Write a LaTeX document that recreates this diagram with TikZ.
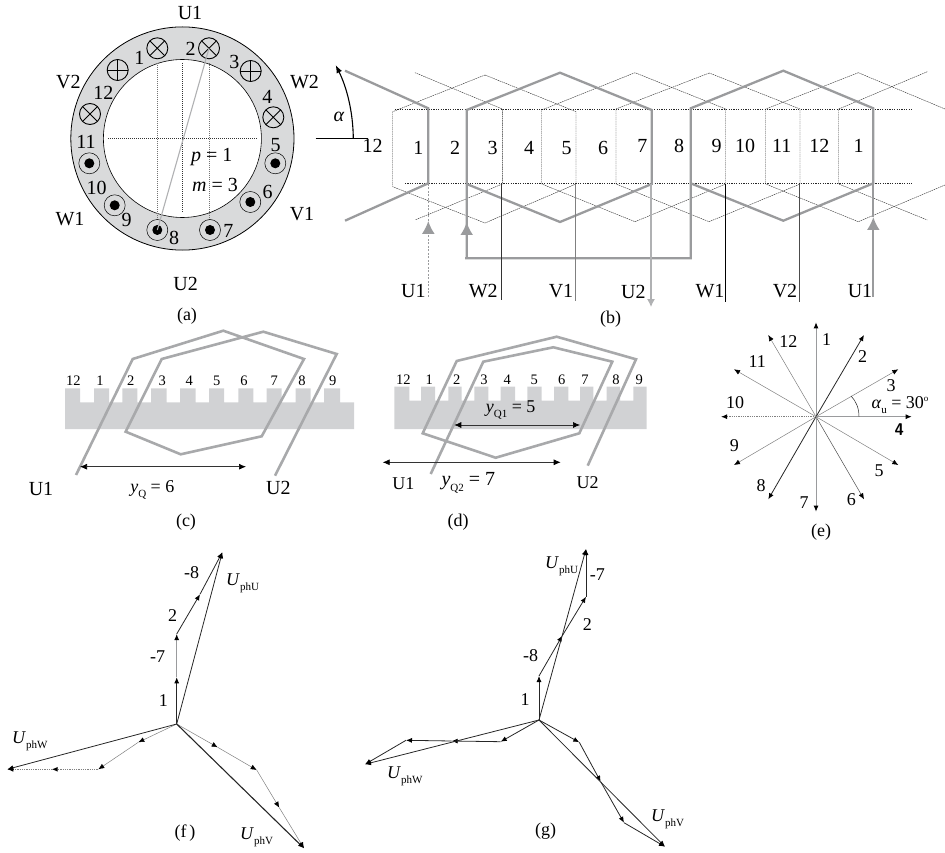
\documentclass[tikz,border=0pt]{standalone}
\usepackage{fontspec}
\setmainfont{Liberation Serif}
\usepackage{tikz}
\usetikzlibrary{shapes,arrows.meta}
\definecolor{ringgray}{HTML}{D9DADB}
\definecolor{bandgray}{HTML}{D1D2D4}
\definecolor{coilgray}{HTML}{9A9B9D}
\definecolor{pilotgray}{HTML}{B0B1B3}
\definecolor{windgray}{HTML}{A8A9AB}
\newcommand{\phlabel}[2]{\textit{#1}\raisebox{-0.3em}{\fontsize{11}{12}\selectfont #2}}
\tikzstyle{big} = [inner sep=0pt, font=\fontsize{20}{22}\selectfont]
\tikzstyle{mid} = [inner sep=0pt, font=\fontsize{18}{20}\selectfont]
\tikzstyle{tiny} = [inner sep=0pt, font=\fontsize{14.5}{16}\selectfont]
\tikzstyle{slotin} = [circle, draw, inner sep=0pt, minimum size=21pt, line width=0.9pt,
    path picture={\draw [line width=0.9pt] (path picture bounding box.north west) -- (path picture bounding box.south east)
    (path picture bounding box.north east) -- (path picture bounding box.south west);}]
\tikzstyle{slotplus} = [circle, draw, inner sep=0pt, minimum size=21pt, line width=0.9pt,
    path picture={\draw [line width=0.9pt] (path picture bounding box.north) -- (path picture bounding box.south)
    (path picture bounding box.east) -- (path picture bounding box.west);}]
\tikzstyle{slotout} = [circle, draw, inner sep=0pt, minimum size=21pt, line width=0.5pt,
    path picture={\fill (path picture bounding box.center) circle (5pt);}]
\tikzstyle{coil} = [draw=coilgray, line width=2.3pt, line join=miter]
\tikzstyle{thincoil} = [draw=black!85, line width=0.4pt, dash pattern=on 1.5pt off 0.7pt]
\tikzstyle{rail} = [draw=black!85, line width=0.9pt, dash pattern=on 1.2pt off 1.2pt]
\tikzstyle{grid} = [draw=black!55, line width=0.6pt, dash pattern=on 1pt off 1pt]
\tikzstyle{bigtip} = [draw=coilgray, line width=2.3pt, -{Latex[length=13pt,width=13pt]}]
\tikzstyle{span} = [draw=black!80, line width=0.7pt, {Latex[length=7pt,width=6pt,black]}-{Latex[length=7pt,width=6pt,black]}]
\tikzstyle{ray} = [draw=black!50, line width=0.5pt, -{Latex[length=6pt,width=5pt,black]}]
\tikzstyle{rayblack} = [draw=black!85, line width=0.8pt, -{Latex[length=6pt,width=5pt,black]}]
\tikzstyle{raygray} = [draw=coilgray, line width=1pt, -{Latex[length=6pt,width=5pt,black]}]
\tikzstyle{raydot} = [draw=black!50, line width=1pt, dash pattern=on 1pt off 0.8pt, -{Latex[length=6pt,width=5pt,black]}]

\begin{document}
\begin{tikzpicture}[x=1pt, y=-1pt]
    \useasboundingbox (0,0) rectangle (945,853);

    % (a) ring with its slots
    \path [fill=ringgray, draw=black, line width=0.8pt] (182.4,138.5) circle (111.6pt);
    \path [fill=white, draw=black, line width=0.6pt] (182.4,138.5) circle (79pt);
    \coordinate (crosstop) at (182.7,63);
    \coordinate (crossbot) at (182.7,213);
    \coordinate (crossleft) at (108,138.3);
    \coordinate (crossright) at (257,138.3);
    \coordinate (gridla) at (157.3,63);
    \coordinate (gridlb) at (157.3,220);
    \coordinate (gridra) at (209,63);
    \coordinate (gridrb) at (209,220);
    \path [grid] (gridla) -- (gridlb);
    \path [grid] (gridra) -- (gridrb);
    \path [grid, draw=black!80] (crosstop) -- (crossbot);
    \path [grid, draw=black!80] (crossleft) -- (crossright);
    \node [slotin] (s1) at (157.3,48.3) {};
    \node [slotin] (s2) at (209,48.3) {};
    \node [slotplus] (s3) at (250.7,71) {};
    \node [slotin] (s4) at (273.3,117.3) {};
    \node [slotout] (s5) at (275.3,163.3) {};
    \node [slotout] (s6) at (250.3,202) {};
    \node [slotout] (s7) at (210,230) {};
    \node [slotout] (s8) at (157.3,230) {};
    \node [slotout] (s9) at (114.7,205.3) {};
    \node [slotout] (s10) at (89.3,163.3) {};
    \node [slotin] (s11) at (90,114) {};
    \node [slotplus] (s12) at (117.7,70) {};
    \path [draw=pilotgray, line width=1.1pt] (s2.center) -- (s8.center);
    \node [big] (n1) at (139.3,58.3) {1};
    \node [big] (n2) at (190.7,49.3) {2};
    \node [big] (n3) at (234.3,61.7) {3};
    \node [big] (n4) at (267.3,96.7) {4};
    \node [big] (n5) at (275.7,145) {5};
    \node [big] (n6) at (267.7,191.7) {6};
    \node [big] (n7) at (228.3,230.7) {7};
    \node [big] (n8) at (174,238.3) {8};
    \node [big] (n9) at (126.7,220) {9};
    \node [big] (n10) at (96.7,187.7) {10};
    \node [big] (n11) at (86,142.3) {11};
    \node [big] (n12) at (103.3,92.7) {12};
    \node [big] (ringu1) at (190,13.3) {U1};
    \node [big] (ringu2) at (185.7,284) {U2};
    \node [big] (ringv2) at (68.3,81.7) {V2};
    \node [big] (ringw2) at (304.5,81.7) {W2};
    \node [big] (ringw1) at (70,219.3) {W1};
    \node [big] (ringv1) at (302,214) {V1};
    \node [big] (polepairs) at (211.7,157.3) {\textit{p} = 1};
    \node [big] (phases) at (215,185) {\textit{m} = 3};
    \node [mid] (capa) at (187,316) {(a)};

    % (b) thin coils behind
    \path [thincoil] (415,72.7) -- (502.3,109) -- (502.3,184) -- (415,220);
    \path [thincoil] (485,75) -- (392.7,111.7) -- (392.7,186.7) -- (485,223) -- (576,184) -- (576,111.7) -- cycle;
    \path [thincoil] (635,72.7) -- (541.7,110) -- (541.7,184) -- (635,221.7) -- (725.7,184) -- (725.7,109) -- cycle;
    \path [thincoil] (709.3,73) -- (616,109) -- (616,184) -- (709,221.7) -- (800,184) -- (800,109) -- cycle;
    \path [thincoil] (858.3,72.7) -- (765.7,109) -- (765.7,184) -- (858.3,221.7) -- (945,185);
    \path [thincoil] (858.3,72.7) -- (945,109);
    \path [thincoil] (927.3,71.7) -- (838.7,109) -- (838.7,184) -- (927.3,220);
    \path [rail] (395,109) -- (911.7,109);
    \path [rail] (405,183.7) -- (911.7,183.7);

    % (b) thick coils
    \path [coil] (345,70.7) -- (428.3,108.3) -- (428.3,183.3) -- (345,220.7);
    \path [coil] (466.7,258.3) -- (466.7,110) -- (560,72.7) -- (651.7,110) -- (651.7,184) -- (560,222) -- (466.7,184);
    \path [coil] (465,258.3) -- (690.7,258.3) -- (690.7,108.3) -- (783.3,70.7) -- (873.3,108.3) -- (873.3,183.3) -- (783.3,220.7) -- (690.7,183.3);
    \coordinate (ufootl) at (428.3,296.7);
    \coordinate (utipl) at (428.3,221);
    \coordinate (utopl) at (428.3,183.3);
    \path [bigtip, line width=1.6pt, dash pattern=on 2pt off 1.5pt] (ufootl) -- (utipl);
    \path [draw=coilgray, line width=1.6pt, dash pattern=on 2pt off 1.5pt] (utipl) -- (utopl);
    \coordinate (ufootm) at (466.7,258.3);
    \coordinate (utipm) at (466.7,222);
    \path [bigtip] (ufootm) -- (utipm);
    \coordinate (ufootr) at (873.3,296.7);
    \coordinate (utipr) at (873.3,217);
    \coordinate (utopr) at (873.3,183.3);
    \path [bigtip] (ufootr) -- (utipr);
    \path [draw=coilgray, line width=2.3pt] (utipr) -- (utopr);
    \coordinate (uout) at (651,184);
    \coordinate (uoutend) at (651,307);
    \path [draw=pilotgray, line width=1.1pt, -{Latex[length=8pt,width=8pt]}] (uout) -- (uoutend);
    \path [draw=black!80, line width=0.6pt] (501.7,183.7) -- (501.7,300);
    \path [draw=black!50, line width=0.7pt] (575,183.7) -- (575,301);
    \path [draw=black, line width=0.9pt] (725,184) -- (725,301.7);
    \path [draw=black!70, line width=0.6pt] (799.3,184) -- (799.3,302);

    % (b) slot numbers
    \node [big] (b12l) at (372.7,146) {12};
    \node [big] (b1) at (418.3,148) {1};
    \node [big] (b2) at (455,148) {2};
    \node [big] (b3) at (492.7,148) {3};
    \node [big] (b4) at (529,148) {4};
    \node [big] (b5) at (566.7,148) {5};
    \node [big] (b6) at (603,148) {6};
    \node [big] (b7) at (642.3,146) {7};
    \node [big] (b8) at (679,146) {8};
    \node [big] (b9) at (716.7,146) {9};
    \node [big] (b10) at (745,146) {10};
    \node [big] (b11) at (781.7,146) {11};
    \node [big] (b12) at (819.3,146) {12};
    \node [big] (b1r) at (858.7,146) {1};
    \node [big] (bu1) at (413.3,290.7) {U1};
    \node [big] (bw2) at (483.3,290.7) {W2};
    \node [big] (bv1) at (561,290.7) {V1};
    \node [big] (bu2) at (633.3,291.7) {U2};
    \node [big] (bw1) at (710,290.7) {W1};
    \node [big] (bv2) at (785,290.7) {V2};
    \node [big] (bu1r) at (860,290.7) {U1};
    \node [mid] (capb) at (610.7,319) {(b)};

    % angle mark
    \coordinate (anglea) at (315.7,138.3);
    \coordinate (angleb) at (368.3,138.3);
    \coordinate (anglefoot) at (353.3,138.3);
    \coordinate (angletip) at (335.7,65);
    \path [draw=black, line width=1.5pt] (anglea) -- (angleb);
    \path [draw=black, line width=1.1pt, -{Latex[length=8pt,width=6pt]}] (anglefoot) .. controls (353,112) and (347,88) .. (angletip);
    \node [big] (alpha) at (339,117.3) {\textit{α}};

    % (c) slotted band
    \path [fill=bandgray] (65,388.3) -- (80,388.3) -- (80,402.3) -- (94,402.3) -- (94,388.3) -- (109,388.3) -- (109,402.3)
        -- (122.3,402.3) -- (122.3,388.3) -- (137.3,388.3) -- (137.3,402.3) -- (151,402.3) -- (151,388.3) -- (166.7,388.3)
        -- (166.7,402.3) -- (180,402.3) -- (180,388.3) -- (195.7,388.3) -- (195.7,402.3) -- (209,402.3) -- (209,388.3)
        -- (224,388.3) -- (224,402.3) -- (238.3,402.3) -- (238.3,388.3) -- (253.3,388.3) -- (253.3,402.3) -- (266.7,402.3)
        -- (266.7,388.3) -- (281.7,388.3) -- (281.7,402.3) -- (295.7,402.3) -- (295.7,388.3) -- (310.7,388.3) -- (310.7,402.3)
        -- (324,402.3) -- (324,388.3) -- (340,388.3) -- (340,402.3) -- (354,402.3) -- (354,429) -- (65,429) -- cycle;
    \node [tiny] (c12) at (73.3,381) {12};
    \node [tiny] (c1) at (100,381) {1};
    \node [tiny] (c2) at (130.7,381) {2};
    \node [tiny] (c3) at (162.3,381) {3};
    \node [tiny] (c4) at (189.3,381) {4};
    \node [tiny] (c5) at (216.7,381) {5};
    \node [tiny] (c6) at (244,381) {6};
    \node [tiny] (c7) at (274.3,381) {7};
    \node [tiny] (c8) at (302,381) {8};
    \node [tiny] (c9) at (332.7,381) {9};
    \path [coil, draw=windgray, line width=2.6pt] (76,475) -- (132.7,359) -- (223.3,330.7) -- (304,359) -- (261.7,436.3) -- (180.7,454.3)
        -- (125.7,431.7) -- (161.7,359) -- (263.3,331.7) -- (336.7,354) -- (275,475.7);
    \coordinate (cspana) at (80,466.7);
    \coordinate (cspanb) at (246,466.7);
    \path [span] (cspana) -- (cspanb);
    \node [big] (cu1) at (41,489.3) {U1};
    \node [big] (cu2) at (278.3,487.7) {U2};
    \node [mid] (cpitch) at (152.3,490) {\textit{y}\raisebox{-0.3em}{\fontsize{11}{12}\selectfont Q} = 6};
    \node [mid] (capc) at (186,522) {(c)};

    % (d) slotted band
    \path [fill=bandgray] (394.3,386.7) -- (409.3,386.7) -- (409.3,400.7) -- (421,400.7) -- (421,386.7) -- (435,386.7) -- (435,400.7)
        -- (448.3,400.7) -- (448.3,386.7) -- (461.7,386.7) -- (461.7,400.7) -- (474.3,400.7) -- (474.3,386.7) -- (488.3,386.7)
        -- (488.3,400.7) -- (500.7,400.7) -- (500.7,386.7) -- (515,386.7) -- (515,400.7) -- (527.3,400.7) -- (527.3,386.7)
        -- (541.7,386.7) -- (541.7,400.7) -- (554,400.7) -- (554,386.7) -- (568.3,386.7) -- (568.3,400.7) -- (580,400.7)
        -- (580,386.7) -- (593.3,386.7) -- (593.3,400.7) -- (606.7,400.7) -- (606.7,386.7) -- (620,386.7) -- (620,400.7)
        -- (633.3,400.7) -- (633.3,386.7) -- (646.7,386.7) -- (646.7,429) -- (394.3,429) -- cycle;
    \node [tiny] (d12) at (403.3,380) {12};
    \node [tiny] (d1) at (429.3,380) {1};
    \node [tiny] (d2) at (456.7,380) {2};
    \node [tiny] (d3) at (484,380) {3};
    \node [tiny] (d4) at (507.3,380) {4};
    \node [tiny] (d5) at (534.3,380) {5};
    \node [tiny] (d6) at (561.7,380) {6};
    \node [tiny] (d7) at (585,380) {7};
    \node [tiny] (d8) at (616,380) {8};
    \node [tiny] (d9) at (639.3,380) {9};
    \path [coil, draw=windgray, line width=2.6pt] (430.7,474) -- (483.3,361.7) -- (553.3,347.3) -- (612.3,361.7) -- (579.3,433.3) -- (495.7,457.7)
        -- (422.7,433.3) -- (456.7,361) -- (556.7,336.7) -- (636,359.3) -- (587.7,465.7);
    \coordinate (dshorta) at (454.3,425);
    \coordinate (dshortb) at (580,425);
    \coordinate (dlonga) at (382.7,462.3);
    \coordinate (dlongb) at (560.7,462.3);
    \path [span] (dshorta) -- (dshortb);
    \path [span] (dlonga) -- (dlongb);
    \node [mid] (dpitcha) at (510.7,410) {\textit{y}\raisebox{-0.3em}{\fontsize{11}{12}\selectfont Q1} = 5};
    \node [big] (dpitchb) at (468.3,483.3) {\textit{y}\raisebox{-0.3em}{\fontsize{11}{12}\selectfont Q2} = 7};
    \node [mid] (du1) at (403.3,483.3) {U1};
    \node [mid] (du2) at (587.7,482.3) {U2};
    \node [mid] (capd) at (458,522) {(d)};

    % (e) star of slots
    \coordinate (ec) at (816,416.7);
    \coordinate (e1) at (816,322.3);
    \coordinate (e2) at (864,335);
    \coordinate (e3) at (898.3,369.3);
    \coordinate (e4) at (911.7,416.7);
    \coordinate (e5) at (898.3,465);
    \coordinate (e6) at (864,499.3);
    \coordinate (e7) at (816,511.7);
    \coordinate (e8) at (768.3,499.3);
    \coordinate (e9) at (734,465);
    \coordinate (e10) at (721,416.7);
    \coordinate (e11) at (734,369.3);
    \coordinate (e12) at (768.3,335);
    \path [raygray] (ec) -- (e1);
    \path [rayblack] (ec) -- (e2);
    \path [ray] (ec) -- (e3);
    \path [raygray] (ec) -- (e4);
    \path [ray] (ec) -- (e5);
    \path [ray, draw=black!70] (ec) -- (e6);
    \path [raygray] (ec) -- (e7);
    \path [rayblack] (ec) -- (e8);
    \path [ray] (ec) -- (e9);
    \path [raydot] (ec) -- (e10);
    \path [ray] (ec) -- (e11);
    \path [ray] (ec) -- (e12);
    \coordinate (arca) at (859,416.7);
    \coordinate (arcb) at (851,396);
    \path [draw=black!85, line width=0.5pt] (arca) .. controls (859,408) and (856,401) .. (arcb);
    \node [mid] (l1) at (826.7,339.3) {1};
    \node [mid] (l2) at (862.7,356.7) {2};
    \node [mid] (l3) at (891,386) {3};
    \node [inner sep=0pt, font=\fontsize{17}{20}\selectfont\bfseries\sffamily] (l4) at (899.3,429.3) {4};
    \node [mid] (l5) at (879,471) {5};
    \node [mid] (l6) at (851.3,499.3) {6};
    \node [mid] (l7) at (804,502.7) {7};
    \node [mid] (l8) at (761,486) {8};
    \node [mid] (l9) at (734.3,445.7) {9};
    \node [mid] (l10) at (735,402.7) {10};
    \node [mid] (l11) at (757.3,361.7) {11};
    \node [mid] (l12) at (788.3,341.7) {12};
    \node [mid] (slotangle) at (900,405) {\textit{α}\raisebox{-0.3em}{\fontsize{11}{12}\selectfont u} = 30\raisebox{0.4em}{\fontsize{9}{10}\selectfont o}};
    \node [mid] (cape) at (821,531.7) {(e)};

    % (f) phasors, full pitch
    \coordinate (fc) at (176.7,724);
    \coordinate (fu1) at (176.7,677.3);
    \coordinate (fu2) at (176.7,634);
    \coordinate (fu3) at (200,594.3);
    \coordinate (fu4) at (222.3,552.3);
    \coordinate (fw1) at (138.3,742.3);
    \coordinate (fw2) at (98.3,769.3);
    \coordinate (fw3) at (51.7,769.3);
    \coordinate (fw4) at (7.3,769.3);
    \coordinate (fv1) at (217.7,747.3);
    \coordinate (fv2) at (256.7,770);
    \coordinate (fv3) at (279.3,807.7);
    \coordinate (fv4) at (304,848.3);
    \path [rayblack] (fc) -- (fu1);
    \path [raygray] (fu1) -- (fu2);
    \path [rayblack] (fu2) -- (fu3);
    \path [rayblack] (fu3) -- (fu4);
    \path [rayblack] (fc) -- (fu4);
    \path [ray] (fc) -- (fw1);
    \path [ray] (fw1) -- (fw2);
    \path [raydot] (fw2) -- (fw3);
    \path [raydot] (fw3) -- (fw4);
    \path [rayblack] (fc) -- (fw4);
    \path [ray] (fc) -- (fv1);
    \path [ray] (fv1) -- (fv2);
    \path [ray] (fv2) -- (fv3);
    \path [ray] (fv3) -- (fv4);
    \path [rayblack, line width=1.1pt] (fc) -- (fv4);
    \node [mid] (fl1) at (163.3,701) {1};
    \node [mid] (fl7) at (157.7,656.7) {-7};
    \node [mid] (fl2) at (172.7,615.3) {2};
    \node [mid] (fl8) at (191.7,572.3) {-8};
    \node [mid, anchor=west] (fphu) at (226,583) {\phlabel{U}{phU}};
    \node [mid, anchor=west] (fphw) at (12,741) {\phlabel{U}{phW}};
    \node [mid, anchor=west] (fphv) at (240,837) {\phlabel{U}{phV}};
    \node [mid] (capf) at (185,833) {(f\,)};

    % (g) phasors, chorded
    \coordinate (gc) at (539,720);
    \coordinate (gu1) at (539,676);
    \coordinate (gu2) at (562.3,635.7);
    \coordinate (gu3) at (586,596.7);
    \coordinate (gu4) at (586,549);
    \coordinate (gw1) at (500.7,741.7);
    \coordinate (gw2) at (451.7,741);
    \coordinate (gw3) at (406,740.3);
    \coordinate (gw4) at (365,764.3);
    \coordinate (gv1) at (579.3,742.3);
    \coordinate (gv2) at (600.7,781.7);
    \coordinate (gv3) at (624,822.7);
    \coordinate (gv4) at (665,846.7);
    \path [rayblack] (gc) -- (gu1);
    \path [rayblack] (gu1) -- (gu2);
    \path [rayblack] (gu2) -- (gu3);
    \path [rayblack] (gu3) -- (gu4);
    \path [rayblack] (gc) -- (gu4);
    \path [rayblack] (gc) -- (gw1);
    \path [rayblack] (gw1) -- (gw2);
    \path [rayblack] (gw2) -- (gw3);
    \path [rayblack] (gw3) -- (gw4);
    \path [rayblack] (gc) -- (gw4);
    \path [rayblack] (gc) -- (gv1);
    \path [rayblack] (gv1) -- (gv2);
    \path [rayblack] (gv2) -- (gv3);
    \path [rayblack] (gv3) -- (gv4);
    \path [rayblack] (gc) -- (gv4);
    \node [mid] (gl1) at (525,699.3) {1};
    \node [mid] (gl8) at (530.7,656) {-8};
    \node [mid] (gl2) at (587.3,625) {2};
    \node [mid] (gl7) at (597.3,575) {-7};
    \node [mid, anchor=west] (gphu) at (545,566) {\phlabel{U}{phU}};
    \node [mid, anchor=west] (gphw) at (387,776) {\phlabel{U}{phW}};
    \node [mid, anchor=west] (gphv) at (651,819) {\phlabel{U}{phV}};
    \node [mid] (capg) at (545.7,831) {(g)};
\end{tikzpicture}
\end{document}
